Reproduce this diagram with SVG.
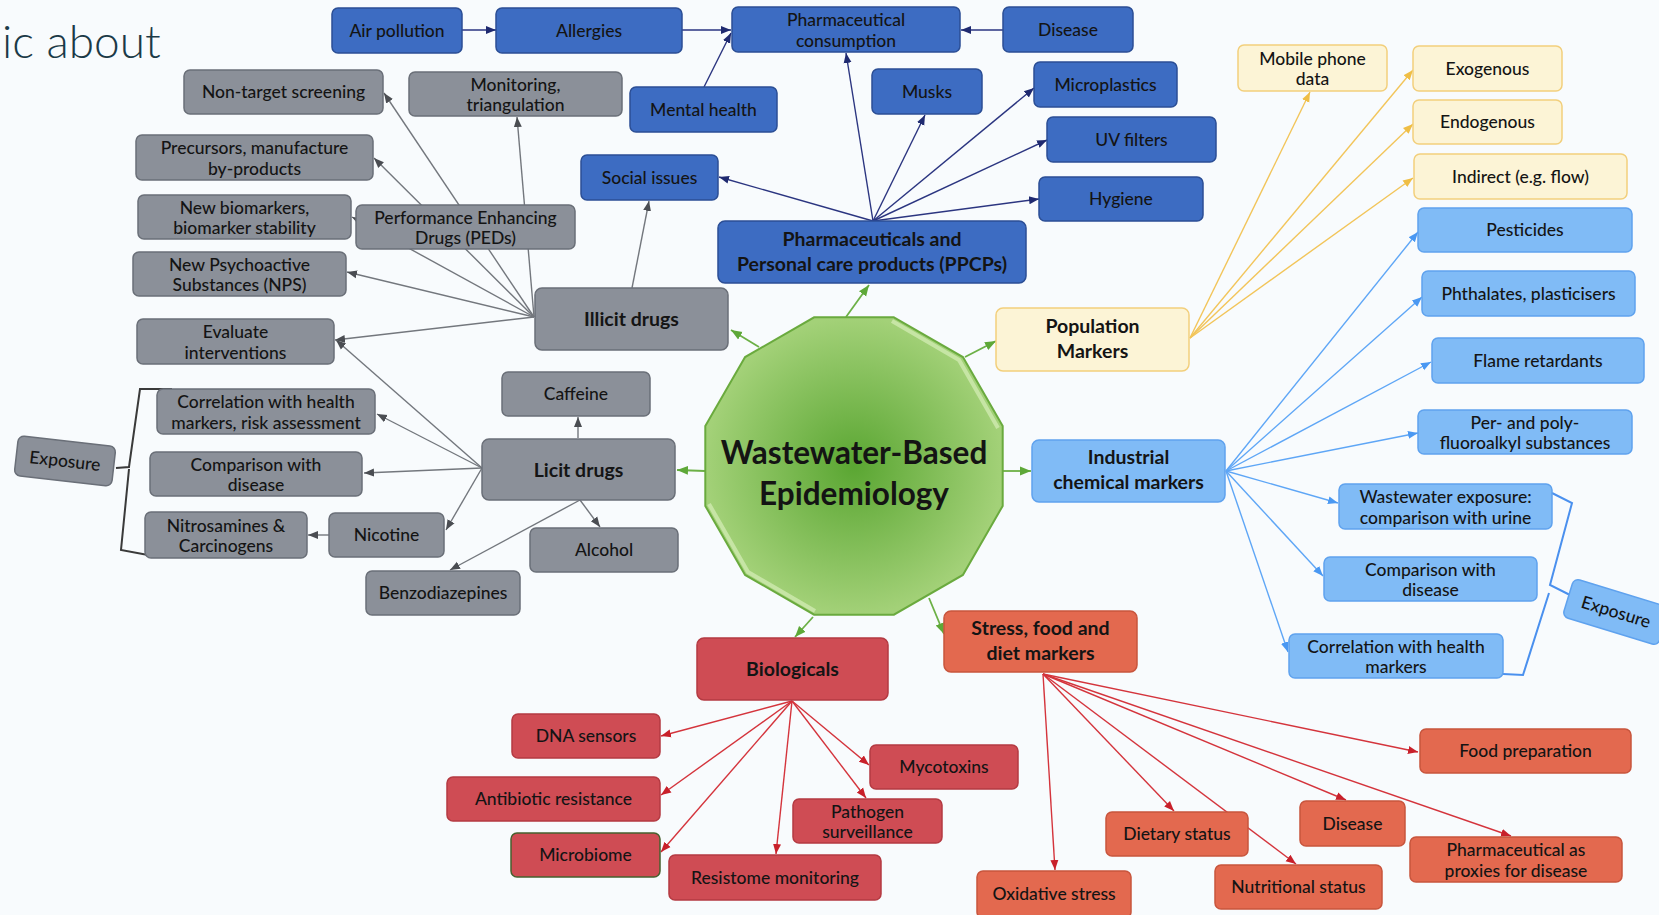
<svg xmlns="http://www.w3.org/2000/svg" width="1659" height="915" viewBox="0 0 1659 915">
<defs>
<style>
.bg{fill:#f8fbfd}
rect{stroke-width:1.5}
.nb{fill:#3d6cc2;stroke:#2b4e95}
.ng{fill:#8b9099;stroke:#6a6f78}
.ny{fill:#fcf4d6;stroke:#f2cf7c}
.nl{fill:#80bbf6;stroke:#5fa2ee}
.nr{fill:#cf4c54;stroke:#b43a42}
.no{fill:#e3694f;stroke:#c8553d}
text{font-family:Lato,"Open Sans","Liberation Sans",sans-serif;font-size:17.5px;font-weight:500;fill:#141414;text-anchor:middle}
.b{font-weight:bold;font-size:19.5px}
.b17{font-weight:bold;font-size:19.5px}
.c{fill:none;stroke-width:1.4}
.cn{stroke:#2b3580}
.cg{stroke:#73777d}
.cgr{stroke:#6cb046;stroke-width:1.8}
.cy{stroke:#f2c55a}
.cl{stroke:#5ea6f6}
.cr{stroke:#d4343c}
</style>
<marker id="an" viewBox="0 0 10 10" refX="10" refY="5" markerWidth="10" markerHeight="10" markerUnits="userSpaceOnUse" orient="auto"><path d="M0,1 L10,5 L0,9 z" fill="#1f2a70"/></marker>
<marker id="ag" viewBox="0 0 10 10" refX="10" refY="5" markerWidth="10" markerHeight="10" markerUnits="userSpaceOnUse" orient="auto"><path d="M0,1 L10,5 L0,9 z" fill="#4a4d52"/></marker>
<marker id="agr" viewBox="0 0 10 10" refX="10" refY="5" markerWidth="11" markerHeight="11" markerUnits="userSpaceOnUse" orient="auto"><path d="M0,1 L10,5 L0,9 z" fill="#5ea838"/></marker>
<marker id="ay" viewBox="0 0 10 10" refX="10" refY="5" markerWidth="10" markerHeight="10" markerUnits="userSpaceOnUse" orient="auto"><path d="M0,1 L10,5 L0,9 z" fill="#efbe45"/></marker>
<marker id="al" viewBox="0 0 10 10" refX="10" refY="5" markerWidth="10" markerHeight="10" markerUnits="userSpaceOnUse" orient="auto"><path d="M0,1 L10,5 L0,9 z" fill="#4a98f2"/></marker>
<marker id="ar" viewBox="0 0 10 10" refX="10" refY="5" markerWidth="10" markerHeight="10" markerUnits="userSpaceOnUse" orient="auto"><path d="M0,1 L10,5 L0,9 z" fill="#c8202a"/></marker>
<radialGradient id="gg" cx="0.5" cy="0.5" r="0.5">
<stop offset="0" stop-color="#5aa632"/>
<stop offset="1" stop-color="#a3d178"/>
</radialGradient>
</defs>
<rect class="bg" x="0" y="0" width="1659" height="915" style="stroke:none"/>
<text x="2" y="58" style="font-size:46px;font-weight:300;fill:#1b3a47;text-anchor:start">ic about</text>

<g id="connectors">
<!-- navy -->
<g class="c cn" marker-end="url(#an)">
<path d="M462,30 L496,30"/>
<path d="M682,30 L731,30"/>
<path d="M1003,30 L961,30"/>
<path d="M704,87 L731,33"/>
<path d="M873,221 L846,53"/>
<path d="M873,221 L925,115"/>
<path d="M873,221 L1034,88"/>
<path d="M873,221 L1047,140"/>
<path d="M873,221 L1039,199"/>
<path d="M873,221 L719,177"/>
</g>
<!-- grey -->
<g class="c cg" marker-end="url(#ag)">
<path d="M632,288 L649,201"/>
<path d="M534,317 L384,93"/>
<path d="M534,317 L517,117"/>
<path d="M534,317 L374,158"/>
<path d="M534,317 L352,217"/>
<path d="M534,317 L347,272"/>
<path d="M534,317 L335,340"/>
<path d="M482,468 L336,340"/>
<path d="M482,468 L377,414"/>
<path d="M482,468 L364,473"/>
<path d="M482,468 L446,530"/>
<path d="M578,438 L578,417"/>
<path d="M580,500 L600,527"/>
<path d="M580,500 L450,570"/>
<path d="M329,535 L308,535"/>
</g>
<!-- green -->
<g class="c cgr" marker-end="url(#agr)">
<path d="M759,347 L731,330"/>
<path d="M846,317 L869,285"/>
<path d="M965,357 L996,341"/>
<path d="M705,471 L677,470"/>
<path d="M1003,471 L1031,471"/>
<path d="M813,617 L795,637"/>
<path d="M929,598 L944,634"/>
</g>
<!-- yellow -->
<g class="c cy" marker-end="url(#ay)">
<path d="M1190,338 L1310,92"/>
<path d="M1190,338 L1413,70"/>
<path d="M1190,338 L1413,124"/>
<path d="M1190,338 L1413,178"/>
</g>
<!-- light blue -->
<g class="c cl" marker-end="url(#al)">
<path d="M1226,471 L1418,232"/>
<path d="M1226,471 L1422,297"/>
<path d="M1226,471 L1431,362"/>
<path d="M1226,471 L1418,433"/>
<path d="M1226,471 L1338,503"/>
<path d="M1226,471 L1323,576"/>
<path d="M1226,471 L1288,652"/>
</g>
<!-- red -->
<g class="c cr" marker-end="url(#ar)">
<path d="M792,701 L661,736"/>
<path d="M792,701 L661,795"/>
<path d="M792,701 L661,852"/>
<path d="M792,701 L776,854"/>
<path d="M792,701 L866,798"/>
<path d="M792,701 L869,765"/>
<path d="M1043,674 L1055,870"/>
<path d="M1043,674 L1174,811"/>
<path d="M1043,674 L1296,864"/>
<path d="M1043,674 L1346,800"/>
<path d="M1043,674 L1511,836"/>
<path d="M1043,674 L1418,752"/>
</g>
<!-- brackets -->
<path d="M172,389 L140,389 L129,467 L116,468 M129,469 L121,550 L148,555" fill="none" stroke="#3a3a3a" stroke-width="2"/>
<path d="M1552,493 L1572,503 L1550,585 L1570,595 M1549,593 L1523,675 L1503,674" fill="none" stroke="#4a90ee" stroke-width="2"/>
</g>

<g id="center">
<polygon points="893.9,317.3 962.9,357.1 1002.7,426.1 1002.7,505.9 962.9,574.9 893.9,614.7 814.1,614.7 745.1,574.9 705.3,505.9 705.3,426.1 745.1,357.1 814.1,317.3" fill="url(#gg)" stroke="#6aaa3e" stroke-width="2"/>
<polyline points="892,321 959,360 998,428" fill="none" stroke="#cfeab0" stroke-width="4" opacity="0.8"/>
<polyline points="709,504 748,572 815,611" fill="none" stroke="#cfeab0" stroke-width="4" opacity="0.8"/>
<text x="854" y="464" style="font-weight:bold;font-size:31.5px">Wastewater-Based</text>
<text x="854" y="505" style="font-weight:bold;font-size:31.5px">Epidemiology</text>
</g>

<!-- dark blue -->
<g id="air"><rect class="nb" x="332" y="8" width="130" height="45" rx="6"/><text x="397" y="36.5">Air pollution</text></g>
<g id="allergies"><rect class="nb" x="496" y="8" width="186" height="45" rx="6"/><text x="589" y="36.5">Allergies</text></g>
<g id="pharmcons"><rect class="nb" x="732" y="7" width="228" height="45" rx="6"/><text x="846" y="25.5">Pharmaceutical</text><text x="846" y="46.5">consumption</text></g>
<g id="disease1"><rect class="nb" x="1003" y="7" width="130" height="45" rx="6"/><text x="1068" y="35.5">Disease</text></g>
<g id="mental"><rect class="nb" x="630" y="87" width="147" height="45" rx="6"/><text x="703.5" y="115.5">Mental health</text></g>
<g id="musks"><rect class="nb" x="872" y="69" width="110" height="45" rx="6"/><text x="927" y="97.5">Musks</text></g>
<g id="micro"><rect class="nb" x="1034" y="62" width="143" height="45" rx="6"/><text x="1105.5" y="90.5">Microplastics</text></g>
<g id="uv"><rect class="nb" x="1047" y="117" width="169" height="45" rx="6"/><text x="1131.5" y="145.5">UV filters</text></g>
<g id="hygiene"><rect class="nb" x="1039" y="177" width="164" height="44" rx="6"/><text x="1121" y="205">Hygiene</text></g>
<g id="social"><rect class="nb" x="581" y="155" width="137" height="45" rx="6"/><text x="649.5" y="183.5">Social issues</text></g>
<g id="ppcp"><rect class="nb" x="718" y="221" width="308" height="62" rx="7"/><text class="b17" x="872" y="246">Pharmaceuticals and</text><text class="b17" x="872" y="271">Personal care products (PPCPs)</text></g>

<!-- grey -->
<g id="nontarget"><rect class="ng" x="184" y="70" width="199" height="44" rx="6"/><text x="283.5" y="98">Non-target screening</text></g>
<g id="monitoring"><rect class="ng" x="409" y="72" width="213" height="44" rx="6"/><text x="515.5" y="90.5">Monitoring,</text><text x="515.5" y="111">triangulation</text></g>
<g id="precursors"><rect class="ng" x="136" y="135" width="237" height="45" rx="6"/><text x="254.5" y="154">Precursors, manufacture</text><text x="254.5" y="174.5">by-products</text></g>
<g id="newbio"><rect class="ng" x="138" y="195" width="213" height="44" rx="6"/><text x="244.5" y="213.5">New biomarkers,</text><text x="244.5" y="234">biomarker stability</text></g>
<g id="peds"><rect class="ng" x="356" y="205" width="219" height="44" rx="6"/><text x="465.5" y="223.5">Performance Enhancing</text><text x="465.5" y="244">Drugs (PEDs)</text></g>
<g id="nps"><rect class="ng" x="133" y="252" width="213" height="44" rx="6"/><text x="239.5" y="270.5">New Psychoactive</text><text x="239.5" y="291">Substances (NPS)</text></g>
<g id="illicit"><rect class="ng" x="535" y="288" width="193" height="62" rx="7"/><text class="b" x="631.5" y="326">Illicit drugs</text></g>
<g id="evaluate"><rect class="ng" x="137" y="319" width="197" height="45" rx="6"/><text x="235.5" y="338">Evaluate</text><text x="235.5" y="358.5">interventions</text></g>
<g id="corrL"><rect class="ng" x="157" y="389" width="218" height="45" rx="6"/><text x="266" y="408">Correlation with health</text><text x="266" y="428.5">markers, risk assessment</text></g>
<g id="compL"><rect class="ng" x="150" y="452" width="212" height="44" rx="6"/><text x="256" y="470.5">Comparison with</text><text x="256" y="491">disease</text></g>
<g id="nitro"><rect class="ng" x="145" y="512" width="162" height="46" rx="6"/><text x="226" y="531.5">Nitrosamines &amp;</text><text x="226" y="552">Carcinogens</text></g>
<g id="nicotine"><rect class="ng" x="329" y="513" width="115" height="44" rx="6"/><text x="386.5" y="541">Nicotine</text></g>
<g id="caffeine"><rect class="ng" x="502" y="372" width="148" height="44" rx="6"/><text x="576" y="400">Caffeine</text></g>
<g id="licit"><rect class="ng" x="482" y="439" width="193" height="61" rx="7"/><text class="b" x="578.5" y="476.5">Licit drugs</text></g>
<g id="alcohol"><rect class="ng" x="530" y="528" width="148" height="44" rx="6"/><text x="604" y="556">Alcohol</text></g>
<g id="benzo"><rect class="ng" x="366" y="571" width="154" height="44" rx="6"/><text x="443" y="599">Benzodiazepines</text></g>
<g id="exposureL" transform="translate(65,461) rotate(6.5)"><rect class="ng" x="-49" y="-20" width="98" height="40" rx="6"/><text x="0" y="6">Exposure</text></g>

<!-- yellow -->
<g id="mobile"><rect class="ny" x="1238" y="45" width="149" height="46" rx="6"/><text x="1312.5" y="64.5">Mobile phone</text><text x="1312.5" y="85">data</text></g>
<g id="exo"><rect class="ny" x="1413" y="46" width="149" height="45" rx="6"/><text x="1487.5" y="74.5">Exogenous</text></g>
<g id="endo"><rect class="ny" x="1413" y="100" width="149" height="44" rx="6"/><text x="1487.5" y="128">Endogenous</text></g>
<g id="indirect"><rect class="ny" x="1414" y="154" width="213" height="45" rx="6"/><text x="1520.5" y="182.5">Indirect (e.g. flow)</text></g>
<g id="population"><rect class="ny" x="996" y="308" width="193" height="63" rx="7"/><text class="b17" x="1092.5" y="333">Population</text><text class="b17" x="1092.5" y="358">Markers</text></g>

<!-- light blue -->
<g id="pesticides"><rect class="nl" x="1418" y="208" width="214" height="44" rx="6"/><text x="1525" y="236">Pesticides</text></g>
<g id="phthalates"><rect class="nl" x="1422" y="271" width="213" height="45" rx="6"/><text x="1528.5" y="299.5">Phthalates, plasticisers</text></g>
<g id="flame"><rect class="nl" x="1432" y="338" width="212" height="45" rx="6"/><text x="1538" y="366.5">Flame retardants</text></g>
<g id="pfas"><rect class="nl" x="1418" y="410" width="214" height="44" rx="6"/><text x="1525" y="428.5">Per- and poly-</text><text x="1525" y="449">fluoroalkyl substances</text></g>
<g id="industrial"><rect class="nl" x="1032" y="440" width="193" height="62" rx="7"/><text class="b17" x="1128.5" y="464">Industrial</text><text class="b17" x="1128.5" y="489">chemical markers</text></g>
<g id="wwexp"><rect class="nl" x="1339" y="484" width="213" height="45" rx="6"/><text x="1445.5" y="503">Wastewater exposure:</text><text x="1445.5" y="523.5">comparison with urine</text></g>
<g id="compR"><rect class="nl" x="1324" y="557" width="213" height="44" rx="6"/><text x="1430.5" y="575.5">Comparison with</text><text x="1430.5" y="596">disease</text></g>
<g id="corrR"><rect class="nl" x="1289" y="634" width="214" height="44" rx="6"/><text x="1396" y="652.5">Correlation with health</text><text x="1396" y="673">markers</text></g>
<g id="exposureR" transform="translate(1616,612) rotate(17)"><rect class="nl" x="-50" y="-20" width="100" height="40" rx="6"/><text x="0" y="6">Exposure</text></g>

<!-- red -->
<g id="biologicals"><rect class="nr" x="697" y="638" width="191" height="62" rx="7"/><text class="b" x="792.5" y="676">Biologicals</text></g>
<g id="dna"><rect class="nr" x="512" y="714" width="148" height="44" rx="6"/><text x="586" y="742">DNA sensors</text></g>
<g id="antibiotic"><rect class="nr" x="447" y="777" width="213" height="44" rx="6"/><text x="553.5" y="805">Antibiotic resistance</text></g>
<g id="microbiome"><rect class="nr" x="511" y="833" width="149" height="44" rx="6" style="stroke:#46602e"/><text x="585.5" y="861">Microbiome</text></g>
<g id="resistome"><rect class="nr" x="669" y="855" width="212" height="45" rx="6"/><text x="775" y="883.5">Resistome monitoring</text></g>
<g id="pathogen"><rect class="nr" x="793" y="799" width="149" height="44" rx="6"/><text x="867.5" y="817.5">Pathogen</text><text x="867.5" y="838">surveillance</text></g>
<g id="mycotoxins"><rect class="nr" x="870" y="745" width="148" height="44" rx="6"/><text x="944" y="773">Mycotoxins</text></g>

<!-- orange -->
<g id="stress"><rect class="no" x="944" y="611" width="193" height="61" rx="7"/><text class="b17" x="1040.5" y="635">Stress, food and</text><text class="b17" x="1040.5" y="660">diet markers</text></g>
<g id="food"><rect class="no" x="1420" y="729" width="211" height="44" rx="6"/><text x="1525.5" y="757">Food preparation</text></g>
<g id="dietary"><rect class="no" x="1106" y="812" width="142" height="44" rx="6"/><text x="1177" y="840">Dietary status</text></g>
<g id="disease2"><rect class="no" x="1300" y="801" width="105" height="45" rx="6"/><text x="1352.5" y="829.5">Disease</text></g>
<g id="proxies"><rect class="no" x="1410" y="837" width="212" height="45" rx="6"/><text x="1516" y="856">Pharmaceutical as</text><text x="1516" y="876.5">proxies for disease</text></g>
<g id="oxidative"><rect class="no" x="977" y="871" width="154" height="47" rx="6"/><text x="1054" y="900">Oxidative stress</text></g>
<g id="nutritional"><rect class="no" x="1215" y="865" width="167" height="44" rx="6"/><text x="1298.5" y="893">Nutritional status</text></g>
</svg>
